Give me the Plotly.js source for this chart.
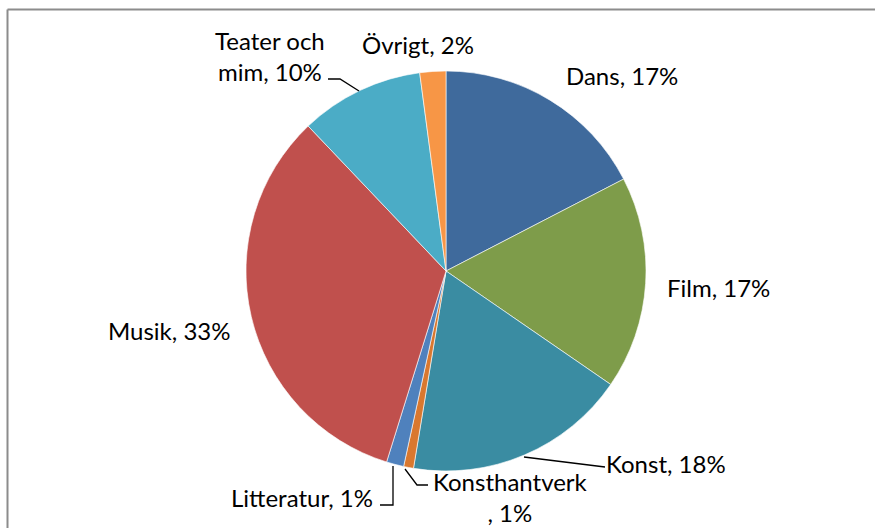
<!DOCTYPE html>
<html>
<head>
<meta charset="utf-8">
<script src="https://cdn.plot.ly/plotly-3.0.1.min.js"></script>
<style>html,body{margin:0;padding:0;background:#fff;}#chart{width:875px;height:528px;}</style>
</head>
<body>
<div id="chart"></div>
<script>
const categories = ["Dans", "Film", "Konst", "Konsthantverk", "Litteratur", "Musik", "Teater och mim", "Övrigt"];
const shares = [17.4, 17.2, 18.0, 0.8, 1.4, 33.1, 10.0, 2.1];
const shownPct = [17, 17, 18, 1, 1, 33, 10, 2];
const colors = ["#3F6A9C", "#7E9C4A", "#3A8CA2", "#D9782F", "#4F81BD", "#C0504D", "#4BACC6", "#F79646"];

const W = 875, H = 528;
const px = x => x / W;
const py = y => 1 - y / H;

// label placement (pixel centres) and line breaks
const positions = [[622, 75], [718, 287], [666, 463], [511, 497], [302, 497], [169, 330], [270, 56], [418, 45]];
const wraps = [null, null, null, ["Konsthantverk", ""], null, null, ["Teater och", "mim"], null];

const FONT = "Lato, 'Liberation Sans', sans-serif";
const annotations = categories.map((c, i) => ({
  xref: "paper", yref: "paper",
  x: px(positions[i][0]), y: py(positions[i][1]),
  xanchor: "center", yanchor: "middle",
  text: wraps[i] ? wraps[i][0] + "<br>" + wraps[i][1] + ", " + shownPct[i] + "%" : c + ", " + shownPct[i] + "%",
  showarrow: false,
  font: {family: FONT, size: 24, color: "#000"},
  align: "center"
}));

function path(pts) {
  return "M" + pts.map(p => px(p[0]) + "," + py(p[1])).join(" L");
}
const lineStyle = {color: "#000", width: 1.3};
const shapes = [
  // chart border (top and left)
  {type: "line", xref: "paper", yref: "paper", x0: px(7.5), y0: py(9.5), x1: 1, y1: py(9.5), line: {color: "#8c8c8c", width: 2}},
  {type: "line", xref: "paper", yref: "paper", x0: px(7.5), y0: py(9.5), x1: px(7.5), y1: 0, line: {color: "#8c8c8c", width: 2}},
  // leader lines
  {type: "path", xref: "paper", yref: "paper", path: path([[328, 79], [340, 79], [359, 91]]), line: lineStyle},
  {type: "path", xref: "paper", yref: "paper", path: path([[524, 457], [605, 467]]), line: lineStyle},
  {type: "path", xref: "paper", yref: "paper", path: path([[405, 469], [417, 485], [428, 485]]), line: lineStyle},
  {type: "path", xref: "paper", yref: "paper", path: path([[393, 466], [393, 505], [380, 505]]), line: lineStyle}
];

const data = [{
  type: "pie",
  labels: categories,
  values: shares,
  sort: false,
  direction: "clockwise",
  rotation: 0,
  marker: {colors: colors, line: {color: "#ffffff", width: 0.6}},
  textinfo: "none",
  hoverinfo: "label+percent",
  domain: {x: [px(246), px(646)], y: [py(471), py(71)]}
}];

const layout = {
  width: W, height: H,
  margin: {l: 0, r: 0, t: 0, b: 0},
  paper_bgcolor: "#fff",
  showlegend: false,
  annotations: annotations,
  shapes: shapes
};

Plotly.newPlot("chart", data, layout, {displayModeBar: false, staticPlot: true});
</script>
</body>
</html>
